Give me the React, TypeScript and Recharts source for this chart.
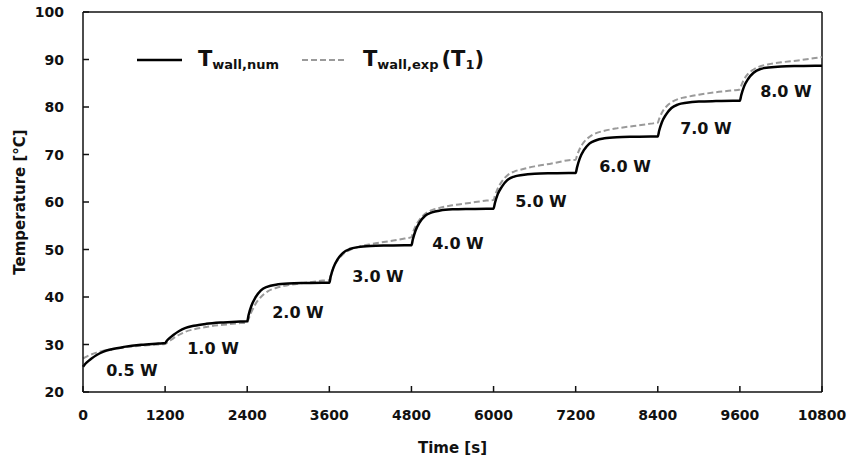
import React from 'react';
import {
  LineChart,
  Line,
  XAxis,
  YAxis,
  ReferenceLine,
  ReferenceDot,
  Legend,
} from 'recharts';

// time samples [s], 10 per heating step plus the end point
const timeS = [
  0, 20, 60, 120, 200, 300, 420, 600, 850, 1100,
  1200, 1220, 1260, 1320, 1400, 1500, 1620, 1800, 2050, 2300,
  2400, 2420, 2460, 2520, 2600, 2700, 2820, 3000, 3250, 3500,
  3600, 3620, 3660, 3720, 3800, 3900, 4020, 4200, 4450, 4700,
  4800, 4820, 4860, 4920, 5000, 5100, 5220, 5400, 5650, 5900,
  6000, 6020, 6060, 6120, 6200, 6300, 6420, 6600, 6850, 7100,
  7200, 7220, 7260, 7320, 7400, 7500, 7620, 7800, 8050, 8300,
  8400, 8420, 8460, 8520, 8600, 8700, 8820, 9000, 9250, 9500,
  9600, 9620, 9660, 9720, 9800, 9900, 10020, 10200, 10450, 10700, 10800,
];

// numerical wall temperature [°C]
const tWallNum = [
  25.3, 25.7, 26.3, 27.0, 27.8, 28.5, 29.0, 29.5, 29.95, 30.2,
  30.3, 30.7, 31.3, 32.0, 32.8, 33.5, 33.95, 34.35, 34.65, 34.85,
  34.9, 36.2, 38.1, 39.9, 41.4, 42.2, 42.6, 42.85, 42.95, 43.0,
  43.0, 44.3, 46.2, 47.9, 49.3, 50.1, 50.5, 50.75, 50.85, 50.9,
  50.9, 52.1, 54.0, 55.7, 57.1, 57.8, 58.2, 58.45, 58.55, 58.6,
  58.6, 59.8, 61.6, 63.2, 64.6, 65.35, 65.7, 65.95, 66.05, 66.1,
  66.1, 67.3, 69.2, 70.9, 72.3, 73.0, 73.4, 73.65, 73.75, 73.8,
  73.8, 75.0, 76.8, 78.4, 79.8, 80.55, 80.9, 81.15, 81.25, 81.3,
  81.3, 82.5, 84.3, 85.9, 87.2, 88.0, 88.3, 88.55, 88.65, 88.7, 88.7,
];

// experimental wall temperature (T1) [°C]
const tWallExp = [
  27.1, 27.2, 27.5, 27.9, 28.3, 28.7, 29.0, 29.4, 29.75, 30.0,
  30.1, 30.3, 30.7, 31.3, 32.0, 32.7, 33.2, 33.7, 34.15, 34.5,
  34.6, 35.4, 36.8, 38.5, 40.0, 41.2, 41.9, 42.5, 43.0, 43.45,
  43.6, 44.6, 46.2, 47.7, 49.0, 49.9, 50.5, 51.1, 51.7, 52.3,
  52.6, 53.5, 54.9, 56.3, 57.5, 58.3, 58.8, 59.3, 59.8, 60.3,
  60.4, 61.3, 62.8, 64.3, 65.6, 66.4, 66.9, 67.5, 68.1, 68.8,
  68.9, 69.8, 71.2, 72.6, 73.7, 74.5, 75.0, 75.5, 76.0, 76.5,
  76.7, 77.5, 78.8, 80.0, 81.0, 81.7, 82.1, 82.6, 83.1, 83.5,
  83.7, 84.5, 85.8, 87.0, 87.9, 88.6, 89.0, 89.4, 89.8, 90.3, 90.5,
];

const xTicks = [0, 1200, 2400, 3600, 4800, 6000, 7200, 8400, 9600, 10800];
const yTicks = [20, 30, 40, 50, 60, 70, 80, 90, 100];

const powerLabels = ['0.5 W', '1.0 W', '2.0 W', '3.0 W', '4.0 W', '5.0 W', '6.0 W', '7.0 W', '8.0 W'];
const labelTime = [716, 1900, 3142, 4311, 5480, 6693, 7921, 9104, 10273];
const labelTemp = [24.6, 29.2, 36.8, 44.4, 51.3, 60.1, 67.6, 75.6, 83.4];

const data = timeS.map((t, i) => ({ t, num: tWallNum[i], exp: tWallExp[i] }));

const FONT = '"DejaVu Sans", sans-serif';
const GRAY = '#9a9a9a';

const YTick = (props: any) => {
  const { x, y, payload } = props;
  return (
    <g>
      <text x={x} y={y} dy="0.36em" textAnchor="end" fontFamily={FONT} fontWeight="bold" fontSize={14} fill="#111">
        {payload.value}
      </text>
      <line x1={x + 19} x2={x + 25} y1={y} y2={y} stroke="#111" strokeWidth={1.5} />
    </g>
  );
};

const XTick = (props: any) => {
  const { x, y, payload } = props;
  return (
    <g>
      <text x={x} y={y} dy="0.71em" textAnchor="middle" fontFamily={FONT} fontWeight="bold" fontSize={14} fill="#111">
        {payload.value}
      </text>
      <line x1={x} x2={x} y1={y - 18} y2={y - 24} stroke="#111" strokeWidth={1.5} />
    </g>
  );
};

const renderLegend = () => (
  <svg width={850} height={100} style={{ position: 'absolute', left: 0, top: 0, overflow: 'visible' }}>
    <line x1={137} x2={182} y1={60} y2={60} stroke="#000" strokeWidth={2.5} />
    <text x={198} y={66} fontFamily={FONT} fontWeight="bold" fontSize={21} fill="#111">
      T<tspan fontSize={13} dy={3}>wall,num</tspan>
    </text>
    <line x1={302} x2={347} y1={60} y2={60} stroke={GRAY} strokeWidth={2} strokeDasharray="6 3" />
    <text x={363} y={66} fontFamily={FONT} fontWeight="bold" fontSize={21} fill="#111">
      T<tspan fontSize={13} dy={3}>wall,exp</tspan>
      <tspan fontSize={21} dy={-3} dx={3}>(T</tspan>
      <tspan fontSize={13} dy={3}>1</tspan>
      <tspan fontSize={21} dy={-3}>)</tspan>
    </text>
  </svg>
);

export default function App() {
  return (
    <div style={{ position: 'absolute', left: 0, top: 0 }}>
      <LineChart width={850} height={462} data={data} margin={{ top: 12, right: 28, bottom: 0, left: 0 }}>
        <XAxis
          dataKey="t"
          type="number"
          domain={[0, 10800]}
          ticks={xTicks}
          interval={0}
          height={70}
          tickSize={0}
          tickMargin={18}
          tickLine={false}
          tick={<XTick />}
          axisLine={{ stroke: '#111', strokeWidth: 1.5 }}
          label={{
            value: 'Time [s]',
            position: 'insideBottom',
            offset: 9,
            style: { fontFamily: FONT, fontWeight: 'bold', fontSize: 15, fill: '#111' },
          }}
        />
        <YAxis
          type="number"
          domain={[20, 100]}
          ticks={yTicks}
          interval={0}
          width={83}
          tickSize={0}
          tickMargin={19}
          tickLine={false}
          tick={<YTick />}
          axisLine={{ stroke: '#111', strokeWidth: 1.5 }}
          label={{
            value: 'Temperature [°C]',
            angle: -90,
            position: 'insideLeft',
            offset: 20,
            style: { textAnchor: 'middle', fontFamily: FONT, fontWeight: 'bold', fontSize: 15, fill: '#111' },
          }}
        />
        <ReferenceLine y={100} stroke="#111" strokeWidth={1.5} />
        <ReferenceLine x={10800} stroke="#111" strokeWidth={1.5} />
        <Legend verticalAlign="top" content={renderLegend} wrapperStyle={{ left: 0, top: 0, width: 0, height: 0 }} />
        <Line
          type="monotone"
          dataKey="exp"
          stroke={GRAY}
          strokeWidth={2}
          strokeDasharray="6 3"
          dot={false}
          isAnimationActive={false}
        />
        <Line
          type="monotone"
          dataKey="num"
          stroke="#000"
          strokeWidth={2.5}
          dot={false}
          isAnimationActive={false}
        />
        {powerLabels.map((p, i) => (
          <ReferenceDot
            key={p}
            x={labelTime[i]}
            y={labelTemp[i]}
            r={0}
            fill="none"
            stroke="none"
            label={{
              value: p,
              position: 'center',
              style: { fontFamily: FONT, fontWeight: 'bold', fontSize: 16, fill: '#111' },
            }}
          />
        ))}
      </LineChart>
    </div>
  );
}
